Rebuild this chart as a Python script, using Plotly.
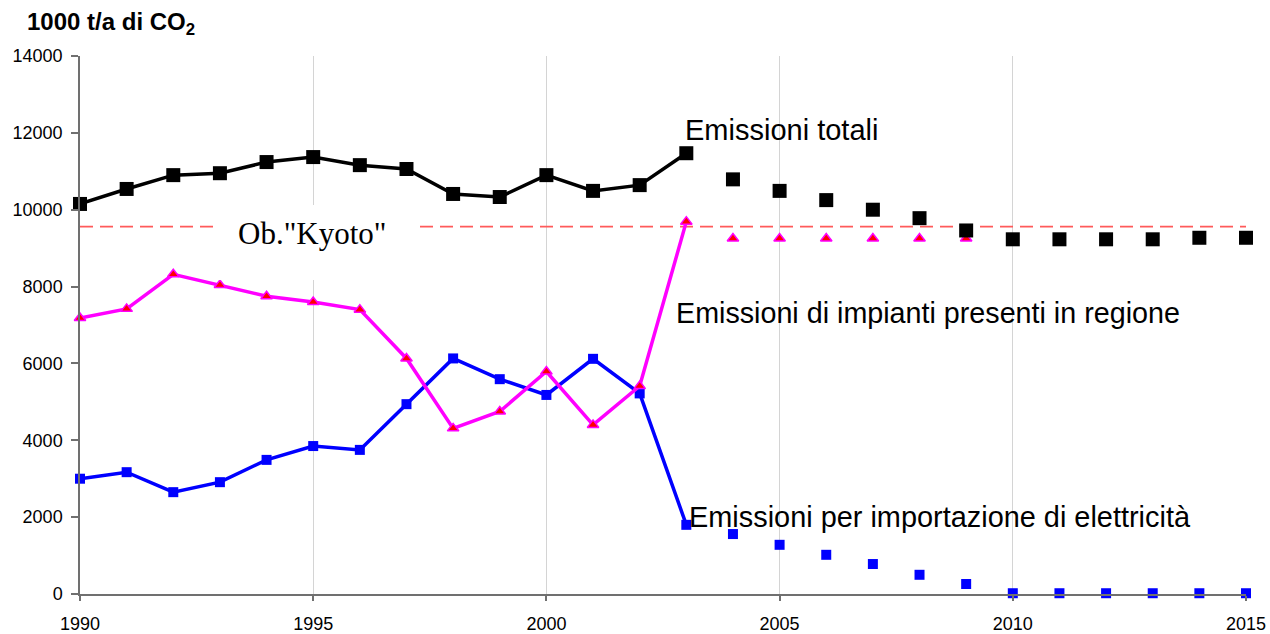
import plotly.graph_objects as go

years = list(range(1990, 2016))
hist_years = list(range(1990, 2004))
proj_years = list(range(2004, 2016))
proj_years_reg = list(range(2004, 2010))

total_hist = [10150, 10540, 10900, 10950, 11240, 11370, 11160, 11060, 10410, 10330, 10900, 10490, 10640, 11470]
total_proj = [10790, 10490, 10250, 10000, 9780, 9460, 9230, 9230, 9230, 9230, 9270, 9270]

regional_hist = [7180, 7420, 8320, 8040, 7750, 7600, 7400, 6130, 4310, 4750, 5790, 4400, 5410, 9690]
regional_proj = [9250, 9250, 9250, 9250, 9250, 9250]

imports_hist = [3000, 3170, 2650, 2910, 3490, 3850, 3750, 4940, 6130, 5590, 5180, 6120, 5220, 1800]
imports_proj = [1560, 1280, 1020, 780, 500, 260, 20, 20, 20, 20, 20, 20]

kyoto = 9560
x_ticks = [1990, 1995, 2000, 2005, 2010, 2015]
y_ticks = list(range(0, 14001, 2000))

W, H = 1270, 634

fig = go.Figure()

# Kyoto target line
fig.add_trace(go.Scatter(x=[years[0], years[-1]], y=[kyoto, kyoto], mode="lines",
                         line=dict(color="#ff5a5a", width=1.6, dash="13px,7px"),
                         hoverinfo="skip", showlegend=False))

# Imports
fig.add_trace(go.Scatter(x=hist_years, y=imports_hist, mode="lines+markers",
                         line=dict(color="#0000ff", width=3.5),
                         marker=dict(symbol="square", size=10, color="#0000ff"),
                         cliponaxis=False, showlegend=False))
fig.add_trace(go.Scatter(x=proj_years, y=imports_proj, mode="markers",
                         marker=dict(symbol="square", size=10, color="#0000ff"),
                         cliponaxis=False, showlegend=False))

# Regional plants
fig.add_trace(go.Scatter(x=hist_years, y=regional_hist, mode="lines+markers",
                         line=dict(color="#ff00ff", width=3.5),
                         marker=dict(symbol="triangle-up", size=10, color="#ff0000",
                                     line=dict(color="#ff00ff", width=1.5)),
                         cliponaxis=False, showlegend=False))
fig.add_trace(go.Scatter(x=proj_years_reg, y=regional_proj, mode="markers",
                         marker=dict(symbol="triangle-up", size=10, color="#ff0000",
                                     line=dict(color="#ff00ff", width=1.5)),
                         cliponaxis=False, showlegend=False))

# Total
fig.add_trace(go.Scatter(x=hist_years, y=total_hist, mode="lines+markers",
                         line=dict(color="#000000", width=3.5),
                         marker=dict(symbol="square", size=14, color="#000000"),
                         cliponaxis=False, showlegend=False))
fig.add_trace(go.Scatter(x=proj_years, y=total_proj, mode="markers",
                         marker=dict(symbol="square", size=14, color="#000000"),
                         cliponaxis=False, showlegend=False))

sans = "Liberation Sans, Arial, sans-serif"
annotations = [
    # white box behind Kyoto label
    dict(x=1995.06, y=9147, xref="x", yref="y", text=" ", showarrow=False,
         bgcolor="white", width=198, height=75, borderpad=0, borderwidth=0),
    dict(x=1994.98, y=9370, xref="x", yref="y", text='Ob."Kyoto"', showarrow=False,
         font=dict(family="Liberation Serif, Times New Roman, serif", size=31, color="black")),
    dict(x=2002.93, y=12074, xref="x", yref="y", text="Emissioni totali", showarrow=False,
         xanchor="left", yanchor="middle", font=dict(family=sans, size=29, color="black")),
    dict(x=2002.74, y=7312, xref="x", yref="y", text="Emissioni di impianti presenti in regione",
         showarrow=False, xanchor="left", yanchor="middle",
         font=dict(family=sans, size=28.7, color="black")),
    dict(x=2003.01, y=2004, xref="x", yref="y", text="Emissioni per importazione di elettricità",
         showarrow=False, xanchor="left", yanchor="middle",
         font=dict(family=sans, size=28.9, color="black")),
]

fig.update_layout(
    width=W, height=H, autosize=False,
    margin=dict(l=80, r=24, t=56, b=40, autoexpand=False),
    paper_bgcolor="white", plot_bgcolor="white",
    title=dict(text="<b>1000 t/a di CO<sub>2</sub></b>", x=27/W, xanchor="left",
               y=1-22/H, yanchor="middle", automargin=False,
               font=dict(family=sans, size=24, color="black")),
    annotations=annotations,
    font=dict(family=sans, size=18, color="black"),
)

fig.update_xaxes(range=[1990, 2015], tickvals=x_ticks, ticktext=[str(v) for v in x_ticks],
                 automargin=False,
                 showgrid=True, gridcolor="#d4d4d4", gridwidth=1,
                 showline=True, linecolor="#707070", linewidth=1.5,
                 ticks="outside", ticklen=5, tickcolor="#707070", tickwidth=1.5,
                 ticklabelstandoff=8,
                 zeroline=False, tickfont=dict(size=18, family=sans, color="black"))
fig.update_yaxes(range=[0, 14000], tickvals=y_ticks, tickformat="d",
                 automargin=False,
                 showgrid=False, showline=True, linecolor="#707070", linewidth=1.5,
                 ticks="outside", ticklen=7, tickcolor="#707070", tickwidth=1.5,
                 ticklabelstandoff=5,
                 zeroline=False, tickfont=dict(size=18, family=sans, color="black"))

page_css = (
    "document.body.style.margin='0';"
    "document.body.style.overflow='hidden';"
)

fig.write_html("out.html", config={"displayModeBar": False}, post_script=page_css)
